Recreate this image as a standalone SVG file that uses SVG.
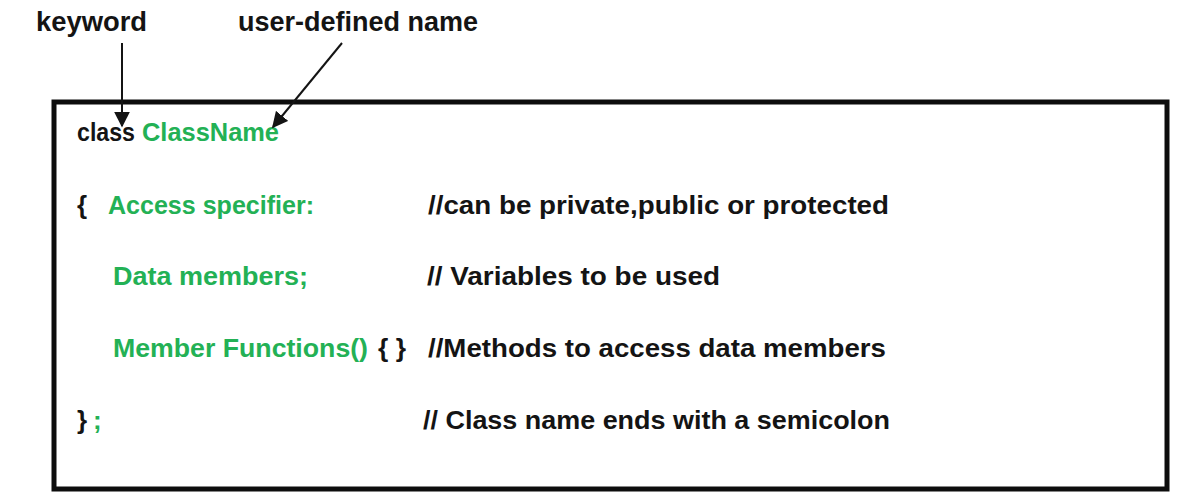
<svg xmlns="http://www.w3.org/2000/svg" width="1200" height="504" viewBox="0 0 1200 504">
<style>
text{font-family:"Liberation Sans",Arial,sans-serif;font-weight:bold;font-size:26px;fill:#141414}
.g{fill:#23b155}
.lbl{font-size:27px}
.conn{stroke:#141414;stroke-width:2;fill:none}
</style>
<defs>
<marker id="ah2" viewBox="0 0 10 10" refX="9" refY="5" markerWidth="16" markerHeight="16" markerUnits="userSpaceOnUse" orient="auto">
<path d="M0,0 L10,5 L0,10 z" fill="#141414"/>
</marker>
</defs>
<rect width="1200" height="504" fill="#ffffff"/>
<g id="label-keyword"><text class="lbl" x="36" y="31" textLength="111" lengthAdjust="spacingAndGlyphs">keyword</text></g>
<g id="label-user-defined"><text class="lbl" x="238" y="31" textLength="240" lengthAdjust="spacingAndGlyphs">user-defined name</text></g>
<g id="class-box">
<rect x="54" y="102" width="1113" height="387" fill="none" stroke="#0d0d0d" stroke-width="5"/>
<text x="77" y="141" textLength="58" lengthAdjust="spacingAndGlyphs">class</text>
<text class="g" x="142" y="141" textLength="137" lengthAdjust="spacingAndGlyphs">ClassName</text>
<text x="77" y="214">{</text>
<text class="g" x="108" y="214" textLength="206" lengthAdjust="spacingAndGlyphs">Access specifier:</text>
<text x="428" y="214" textLength="461" lengthAdjust="spacingAndGlyphs">//can be private,public or protected</text>
<text class="g" x="113" y="285" textLength="195" lengthAdjust="spacingAndGlyphs">Data members;</text>
<text x="427" y="285" textLength="293" lengthAdjust="spacingAndGlyphs">// Variables to be used</text>
<text class="g" x="113" y="357" textLength="255" lengthAdjust="spacingAndGlyphs">Member Functions()</text>
<text x="378" y="357" textLength="28" lengthAdjust="spacingAndGlyphs">{ }</text>
<text x="428" y="357" textLength="458" lengthAdjust="spacingAndGlyphs">//Methods to access data members</text>
<text x="77" y="429">}</text>
<text class="g" x="93" y="429">;</text>
<text x="423" y="429" textLength="467" lengthAdjust="spacingAndGlyphs">// Class name ends with a semicolon</text>
</g>
<g id="connectors">
<line class="conn" x1="122" y1="43" x2="122" y2="126" marker-end="url(#ah2)"/>
<line class="conn" x1="342" y1="43" x2="273" y2="127" marker-end="url(#ah2)"/>
</g>
</svg>
